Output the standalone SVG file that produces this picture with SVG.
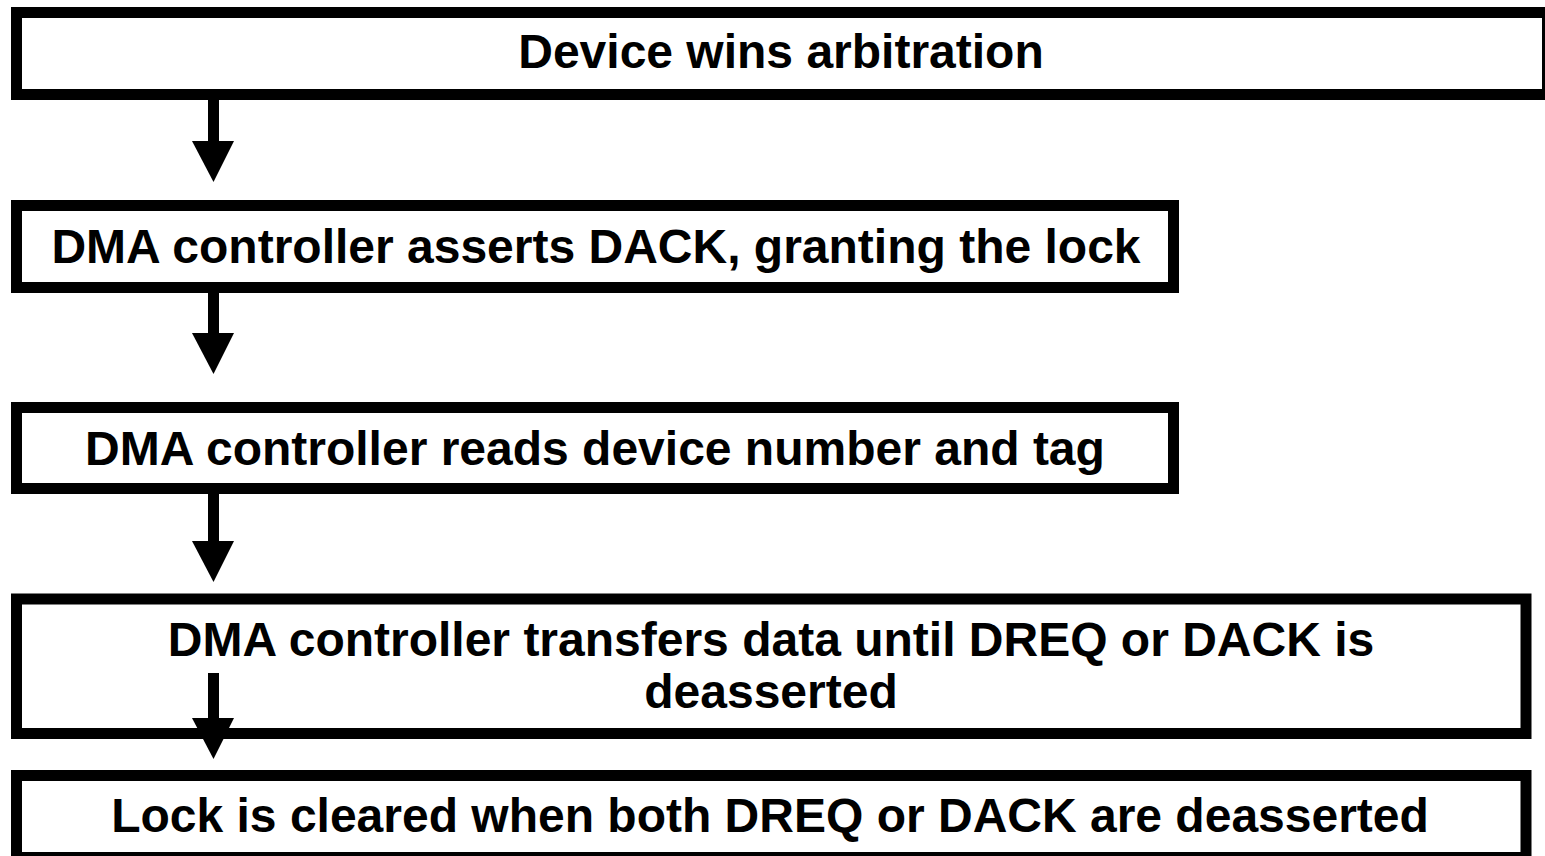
<svg xmlns="http://www.w3.org/2000/svg" width="1545" height="856" viewBox="0 0 1545 856">
  <style>
    .box { fill: #ffffff; stroke: #000000; stroke-width: 11; }
    .label { font-family: "Liberation Sans", Arial, sans-serif; font-weight: bold; font-size: 48px; fill: #000000; text-anchor: middle; }
    .shaft { fill: #000000; }
    .head { fill: #000000; }
  </style>
  <rect x="0" y="0" width="1545" height="856" fill="#ffffff"/>

  <g id="node-arbitration">
    <rect class="box" x="16.5" y="12.5" width="1531" height="82"/>
    <text class="label" x="781" y="68">Device wins arbitration</text>
  </g>

  <g id="node-dack">
    <rect class="box" x="16.5" y="205.5" width="1157" height="82"/>
    <text class="label" x="596" y="263">DMA controller asserts DACK, granting the lock</text>
  </g>

  <g id="node-read">
    <rect class="box" x="16.5" y="407.5" width="1157" height="81"/>
    <text class="label" x="595" y="465">DMA controller reads device number and tag</text>
  </g>

  <g id="node-transfer">
    <rect class="box" x="16.5" y="599" width="1509.5" height="134.5"/>
    <text class="label" x="771" y="656">DMA controller transfers data until DREQ or DACK is</text>
    <text class="label" x="771" y="708">deasserted</text>
  </g>

  <g id="node-clear">
    <rect class="box" x="16.5" y="775.5" width="1509.5" height="82"/>
    <text class="label" x="770" y="832">Lock is cleared when both DREQ or DACK are deasserted</text>
  </g>

  <g id="connectors">
    <rect class="shaft" x="208" y="100" width="11" height="42"/>
    <polygon class="head" points="192,141 234,141 213.5,182"/>

    <rect class="shaft" x="208" y="293" width="11" height="41"/>
    <polygon class="head" points="192,333 234,333 213.5,374"/>

    <rect class="shaft" x="208" y="494" width="11" height="48"/>
    <polygon class="head" points="192,541 234,541 213.5,582"/>

    <rect class="shaft" x="208" y="673" width="11" height="46"/>
    <polygon class="head" points="192,718 234,718 213.5,759"/>
  </g>
</svg>
